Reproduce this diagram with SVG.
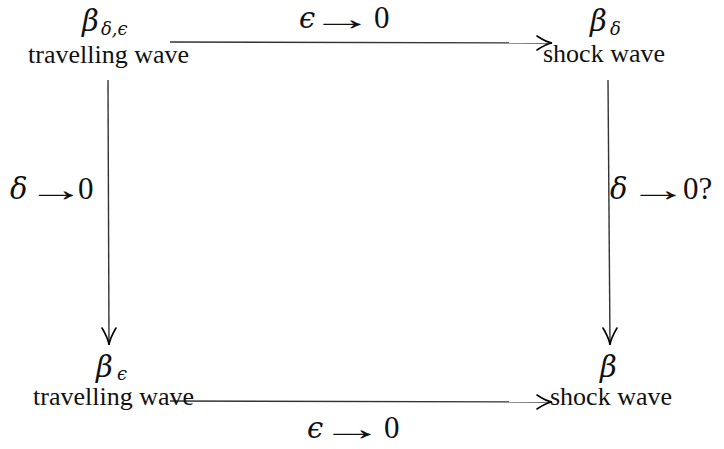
<svg xmlns="http://www.w3.org/2000/svg" width="724" height="449" viewBox="0 0 724 449">
<style>
.lbl{font-family:"Liberation Serif","Times New Roman",serif;font-size:26px;fill:#111}
.d{font-family:"Liberation Serif","Times New Roman",serif;font-size:31px;fill:#111}
.g{font-family:"DejaVu Serif",serif;font-style:italic;font-size:29px;fill:#111}
.ar{font-family:"Liberation Serif","Times New Roman",serif;font-size:34px;fill:#111}
.sub{font-family:"DejaVu Serif",serif;font-style:italic;font-size:18px;fill:#111}
.ln{stroke:#333;stroke-width:1.4;fill:none}
.ah{stroke:#000;stroke-width:1.6;fill:none;stroke-linecap:round}
</style>
<rect width="724" height="449" fill="#fff"/>
<g id="connectors">
  <line class="ln" x1="170" y1="42" x2="552" y2="43"/>
  <path class="ah" d="M537,36 Q546,42 552,43 Q546,44 537,50"/>
  <line class="ln" x1="108" y1="80" x2="109" y2="345"/>
  <path class="ah" d="M102,328 Q108,338 109,345 Q110,338 116,328"/>
  <line class="ln" x1="608" y1="80" x2="610" y2="345"/>
  <path class="ah" d="M603,328 Q609,338 610,345 Q611,338 617,328"/>
  <line class="ln" x1="170" y1="401" x2="552" y2="402"/>
  <path class="ah" d="M537,395 Q546,401 552,402 Q546,403 537,409"/>
</g>
<g id="label-top">
  <text class="g" x="299" y="28">ϵ</text>
  <text class="ar" transform="translate(342,30) scale(1.85,1)" text-anchor="middle">→</text>
  <text class="d" x="374" y="28">0</text>
</g>
<g id="label-left">
  <text class="g" x="10" y="199">δ</text>
  <text class="ar" transform="translate(56,201) scale(1.7,1)" text-anchor="middle">→</text>
  <text class="d" x="78" y="199">0</text>
</g>
<g id="label-right">
  <text class="g" x="610" y="199">δ</text>
  <text class="ar" transform="translate(658,201) scale(1.75,1)" text-anchor="middle">→</text>
  <text class="d" x="683" y="199">0?</text>
</g>
<g id="label-bottom">
  <text class="g" x="307" y="438">ϵ</text>
  <text class="ar" transform="translate(352,440) scale(1.85,1)" text-anchor="middle">→</text>
  <text class="d" x="384" y="438">0</text>
</g>
<g id="node-tl">
  <text class="g" x="82" y="31">β</text><text class="sub" x="101" y="35">δ,ϵ</text>
  <text class="lbl" x="28" y="63">travelling wave</text>
</g>
<g id="node-tr">
  <text class="g" x="590" y="31">β</text><text class="sub" x="610" y="35">δ</text>
  <text class="lbl" x="543" y="62">shock wave</text>
</g>
<g id="node-bl">
  <text class="g" x="96" y="377">β</text><text class="sub" x="117" y="380">ϵ</text>
  <text class="lbl" x="33" y="405">travelling wave</text>
</g>
<g id="node-br">
  <text class="g" x="600" y="377">β</text>
  <text class="lbl" x="550" y="405">shock wave</text>
</g>
</svg>
